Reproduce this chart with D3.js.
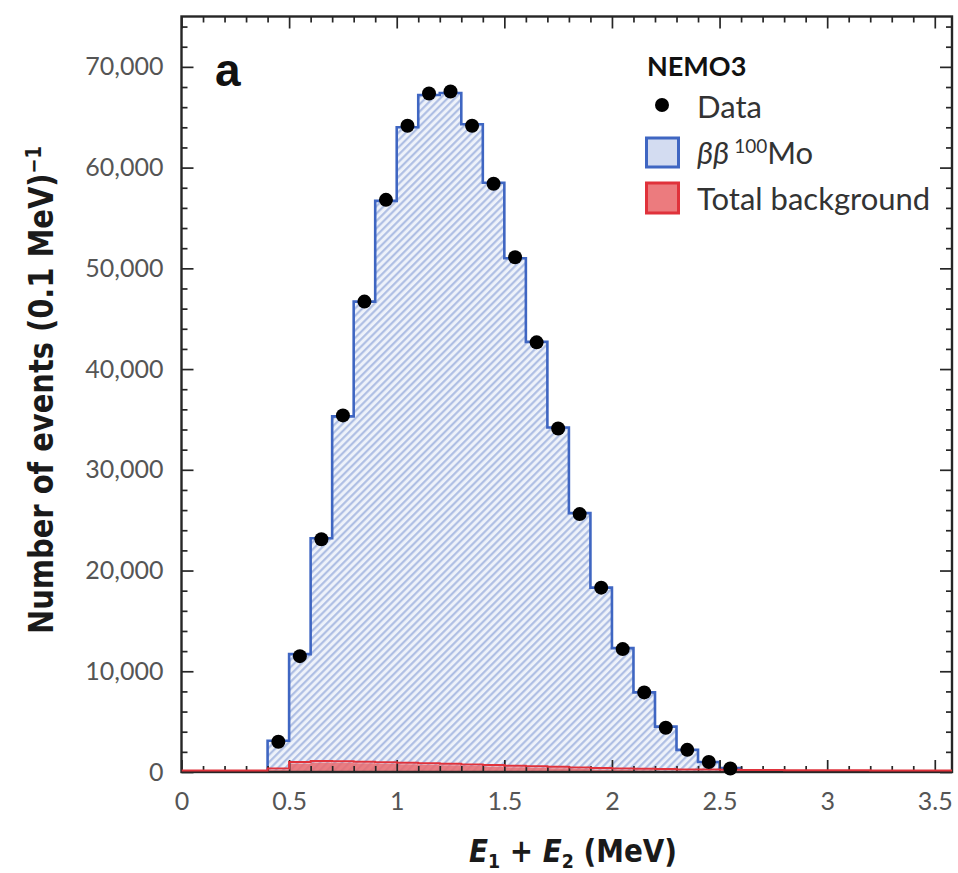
<!DOCTYPE html>
<html>
<head>
<meta charset="utf-8">
<script src="https://cdn.jsdelivr.net/npm/d3@7/dist/d3.min.js"></script>
<style>
  body { margin: 0; background: #fff; }
  svg { display: block; }
</style>
</head>
<body>
<svg id="chart" width="958" height="873"></svg>
<script>
// ---- Data (0.1 MeV bins) ----
const binWidth = 0.1;

// Measured two-electron energy sum: bin centres and counts
const dataCenters = [0.45, 0.55, 0.65, 0.75, 0.85, 0.95, 1.05, 1.15, 1.25, 1.35, 1.45,
                     1.55, 1.65, 1.75, 1.85, 1.95, 2.05, 2.15, 2.25, 2.35, 2.45, 2.55];
const dataCounts  = [3000, 11500, 23100, 35400, 46700, 56800, 64150, 67350, 67550, 64150, 58400,
                     51100, 42650, 34100, 25600, 18300, 12200, 7900, 4400, 2200, 1000, 350];

// ββ 100Mo expectation (stacked on background): lower bin edges and counts
const bbEdges  = [0.4, 0.5, 0.6, 0.7, 0.8, 0.9, 1.0, 1.1, 1.2, 1.3, 1.4, 1.5, 1.6,
                  1.7, 1.8, 1.9, 2.0, 2.1, 2.2, 2.3, 2.4, 2.5, 2.6, 2.7, 2.8, 2.9];
const bbCounts = [3100, 11700, 23200, 35300, 46700, 56700, 64000, 67200, 67400, 64300, 58500, 51000, 42700,
                  34200, 25700, 18300, 12300, 7900, 4500, 2200, 1000, 380, 120, 40, 10, 3];

// Total background: lower bin edges and counts
const bkgEdges  = [0.0, 0.1, 0.2, 0.3, 0.4, 0.5, 0.6, 0.7, 0.8, 0.9, 1.0, 1.1, 1.2, 1.3, 1.4, 1.5, 1.6, 1.7,
                   1.8, 1.9, 2.0, 2.1, 2.2, 2.3, 2.4, 2.5, 2.6, 2.7, 2.8, 2.9, 3.0, 3.1, 3.2, 3.3, 3.4, 3.5];
const bkgCounts = [0, 0, 0, 0, 200, 850, 950, 920, 880, 830, 780, 720, 660, 600, 540, 480, 420, 360,
                   300, 250, 200, 170, 140, 110, 90, 70, 50, 40, 30, 25, 20, 15, 12, 10, 8, 5];

// Axis ticks
const xMajorTicks = [0, 0.5, 1, 1.5, 2, 2.5, 3, 3.5];
const xTickLabels = ["0", "0.5", "1", "1.5", "2", "2.5", "3", "3.5"];
const yMajorTicks = [0, 10000, 20000, 30000, 40000, 50000, 60000, 70000];
const yTickLabels = ["0", "10,000", "20,000", "30,000", "40,000", "50,000", "60,000", "70,000"];

// ---- Layout ----
const plot = { left: 181.5, right: 952, top: 16.5, bottom: 772 };
const xMax = 3.58, yMax = 75000;

const colors = {
  frame: "#262626",
  tickText: "#555",
  title: "#1a1a1a",
  bbLine: "#3f66c2",
  hatchBg: "#eef2fa",
  hatchLine: "#a9bae2",
  bkgLine: "#e0323b",
  bkgFill: "#e9686c",
  point: "#000"
};

const svg = d3.select("#chart");

const x = d3.scaleLinear().domain([0, xMax]).range([plot.left, plot.right]);
const y = d3.scaleLinear().domain([0, yMax]).range([plot.bottom, plot.top]);

const defs = svg.append("defs");
const hatch = defs.append("pattern")
  .attr("id", "hatch")
  .attr("patternUnits", "userSpaceOnUse")
  .attr("width", 5.2).attr("height", 5.2)
  .attr("patternTransform", "rotate(45)");
hatch.append("rect").attr("width", 5.2).attr("height", 5.2).attr("fill", colors.hatchBg);
hatch.append("line")
  .attr("x1", 1.2).attr("y1", 0).attr("x2", 1.2).attr("y2", 5.2)
  .attr("stroke", colors.hatchLine).attr("stroke-width", 2);

defs.append("clipPath").attr("id", "plotClip")
  .append("rect")
  .attr("x", plot.left).attr("y", plot.top - 2)
  .attr("width", plot.right - plot.left).attr("height", plot.bottom - plot.top + 2);

// Build step points for a histogram from lower edges and counts
function stepPoints(edges, counts) {
  const pts = edges.map((e, i) => [e, counts[i]]);
  const last = edges[edges.length - 1] + binWidth;
  pts.push([last, counts[counts.length - 1]]);
  return pts;
}
function outlinePoints(edges, counts) {
  const pts = stepPoints(edges, counts);
  const last = pts[pts.length - 1][0];
  return [[edges[0], 0], ...pts, [last, 0]];
}

const area = d3.area()
  .curve(d3.curveStepAfter)
  .x(d => x(d[0])).y0(y(0)).y1(d => y(d[1]));
const line = d3.line()
  .curve(d3.curveStepAfter)
  .x(d => x(d[0])).y(d => y(d[1]));

const g = svg.append("g").attr("clip-path", "url(#plotClip)");

// ββ fill (hatched)
g.append("path")
  .attr("d", area(stepPoints(bbEdges, bbCounts)))
  .attr("fill", "url(#hatch)");

// background fill
g.append("path")
  .attr("d", area(stepPoints(bkgEdges, bkgCounts)))
  .attr("fill", colors.bkgFill)
  .attr("opacity", 0.85);

// ββ outline
g.append("path")
  .attr("d", line(outlinePoints(bbEdges, bbCounts)))
  .attr("fill", "none")
  .attr("stroke", colors.bbLine)
  .attr("stroke-width", 2.6);

// ---- Axes (ticks inward on all four sides) ----
const xMinor = d3.range(0, 36).map(i => i / 10).filter(v => !xMajorTicks.some(m => Math.abs(m - v) < 1e-9));
const yMinor = d3.range(0, 75000, 2000).filter(v => v % 10000 !== 0);

function styleAxis(sel) {
  sel.select(".domain").remove();
  sel.selectAll(".tick line").attr("stroke", colors.frame).attr("stroke-width", 1.7);
  sel.selectAll(".tick text")
    .attr("fill", colors.tickText)
    .attr("font-family", "Lato, 'Open Sans', sans-serif")
    .attr("font-size", 25);
}

const majorLen = 12, minorLen = 6;

// bottom
svg.append("g").attr("transform", `translate(0,${plot.bottom})`)
  .call(d3.axisBottom(x).tickValues(xMinor).tickSize(-minorLen).tickFormat(""))
  .call(styleAxis);
svg.append("g").attr("transform", `translate(0,${plot.bottom})`)
  .call(d3.axisBottom(x).tickValues(xMajorTicks).tickSize(-majorLen).tickPadding(20)
        .tickFormat((d, i) => xTickLabels[i]))
  .call(styleAxis);
// top
svg.append("g").attr("transform", `translate(0,${plot.top})`)
  .call(d3.axisTop(x).tickValues(xMinor).tickSize(-minorLen).tickFormat(""))
  .call(styleAxis);
svg.append("g").attr("transform", `translate(0,${plot.top})`)
  .call(d3.axisTop(x).tickValues(xMajorTicks).tickSize(-majorLen).tickFormat(""))
  .call(styleAxis);
// left
svg.append("g").attr("transform", `translate(${plot.left},0)`)
  .call(d3.axisLeft(y).tickValues(yMinor).tickSize(-minorLen).tickFormat(""))
  .call(styleAxis);
svg.append("g").attr("transform", `translate(${plot.left},0)`)
  .call(d3.axisLeft(y).tickValues(yMajorTicks).tickSize(-majorLen).tickPadding(18)
        .tickFormat((d, i) => yTickLabels[i]))
  .call(styleAxis);
// right
svg.append("g").attr("transform", `translate(${plot.right},0)`)
  .call(d3.axisRight(y).tickValues(yMinor).tickSize(-minorLen).tickFormat(""))
  .call(styleAxis);
svg.append("g").attr("transform", `translate(${plot.right},0)`)
  .call(d3.axisRight(y).tickValues(yMajorTicks).tickSize(-majorLen).tickFormat(""))
  .call(styleAxis);

// frame
svg.append("rect")
  .attr("x", plot.left).attr("y", plot.top)
  .attr("width", plot.right - plot.left).attr("height", plot.bottom - plot.top)
  .attr("fill", "none").attr("stroke", colors.frame).attr("stroke-width", 2.4);

// background outline, drawn over the frame so it stays visible along the baseline
svg.append("g").attr("clip-path", "url(#plotClip)")
  .append("path")
  .attr("d", line(stepPoints(bkgEdges, bkgCounts).concat([[xMax, bkgCounts[bkgCounts.length - 1]]])))
  .attr("transform", "translate(0,-1.5)")
  .attr("fill", "none")
  .attr("stroke", colors.bkgLine)
  .attr("stroke-width", 2);

// data points
svg.append("g").selectAll("circle")
  .data(dataCenters.map((c, i) => [c, dataCounts[i]]))
  .join("circle")
  .attr("cx", d => x(d[0]))
  .attr("cy", d => y(d[1]))
  .attr("r", 7)
  .attr("fill", colors.point);

// ---- Axis titles ----
const titleFont = "'DejaVu Sans Condensed', 'Liberation Sans Narrow', 'Liberation Sans', sans-serif";

const xt = svg.append("text")
  .attr("x", 573).attr("y", 862)
  .attr("text-anchor", "middle")
  .attr("font-family", titleFont)
  .attr("font-weight", "bold")
  .attr("font-size", 32)
  .attr("textLength", 208)
  .attr("lengthAdjust", "spacingAndGlyphs")
  .attr("fill", colors.title);
xt.append("tspan").attr("font-style", "italic").text("E");
xt.append("tspan").attr("font-size", 20).attr("dy", 6).text("1");
xt.append("tspan").attr("dy", -6).text(" + ");
xt.append("tspan").attr("font-style", "italic").text("E");
xt.append("tspan").attr("font-size", 20).attr("dy", 6).text("2");
xt.append("tspan").attr("dy", -6).text(" (MeV)");

const yt = svg.append("text")
  .attr("transform", "translate(53,390) rotate(-90)")
  .attr("text-anchor", "middle")
  .attr("font-family", titleFont)
  .attr("font-weight", "bold")
  .attr("font-size", 34)
  .attr("textLength", 488)
  .attr("lengthAdjust", "spacingAndGlyphs")
  .attr("fill", colors.title);
yt.append("tspan").text("Number of events (0.1 MeV)");
yt.append("tspan").attr("font-size", 21).attr("dy", -12).text("−1");

// panel letter
svg.append("text")
  .attr("x", 215).attr("y", 86)
  .attr("font-family", "'Liberation Sans', Arial, sans-serif")
  .attr("font-weight", "bold")
  .attr("font-size", 46)
  .attr("fill", "#111")
  .text("a");

// ---- Legend ----
const legendFont = "Lato, 'Open Sans', sans-serif";
const lg = svg.append("g");
lg.append("text")
  .attr("x", 647).attr("y", 76)
  .attr("font-family", legendFont).attr("font-weight", "bold")
  .attr("font-size", 27).attr("fill", "#111")
  .text("NEMO3");

lg.append("circle").attr("cx", 662).attr("cy", 105).attr("r", 7).attr("fill", colors.point);
lg.append("text")
  .attr("x", 697).attr("y", 118)
  .attr("font-family", legendFont).attr("font-size", 31).attr("fill", "#333")
  .text("Data");

lg.append("rect")
  .attr("x", 646.5).attr("y", 138).attr("width", 32).attr("height", 29)
  .attr("fill", "#d3dcf1").attr("stroke", colors.bbLine).attr("stroke-width", 3);
const bbText = lg.append("text")
  .attr("x", 697).attr("y", 164)
  .attr("font-family", legendFont).attr("font-size", 31).attr("fill", "#333");
bbText.append("tspan").attr("font-style", "italic").text("ββ");
bbText.append("tspan").attr("font-size", 19).attr("dy", -11).attr("dx", 5).text("100");
bbText.append("tspan").attr("dy", 11).text("Mo");

lg.append("rect")
  .attr("x", 646.5).attr("y", 183).attr("width", 32).attr("height", 30)
  .attr("fill", "#ec7b7e").attr("stroke", colors.bkgLine).attr("stroke-width", 3);
lg.append("text")
  .attr("x", 697).attr("y", 210)
  .attr("font-family", legendFont).attr("font-size", 31).attr("fill", "#333")
  .text("Total background");
</script>
</body>
</html>
